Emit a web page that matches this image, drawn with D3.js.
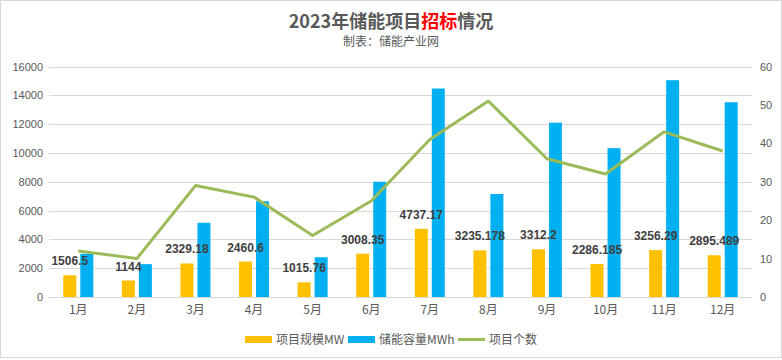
<!DOCTYPE html>
<html><head><meta charset="utf-8">
<script src="https://cdn.jsdelivr.net/npm/d3@7"></script>
<style>
body{margin:0;background:#fff;}
svg{display:block;}
text{font-family:"Noto Sans CJK SC","Noto Sans",sans-serif;}
</style></head>
<body><svg id="c" width="782" height="360"></svg>
<script>
const categories = ["1月","2月","3月","4月","5月","6月","7月","8月","9月","10月","11月","12月"];
const scaleMW = [1506.5,1144,2329.18,2460.6,1015.76,3008.35,4737.17,3235.178,3312.2,2286.185,3256.29,2895.489];
const capacityMWh = [3000,2280,5150,6650,2760,8000,14470,7150,12100,10330,15050,13520];
const projectCount = [12,10,29,26,16,25,41,51,36,32,43,38];
const leftTicks = [0,2000,4000,6000,8000,10000,12000,14000,16000];
const rightTicks = [0,10,20,30,40,50,60];
const seriesNames = ["项目规模MW","储能容量MWh","项目个数"];
const colors = ["#FFC000","#00B0F0","#9BBB59"];

const svg = d3.select("#c");
svg.append("rect").attr("x",0.5).attr("y",0.5).attr("width",781).attr("height",357)
  .attr("fill","#fff").attr("stroke","#d9d9d9");

const L=49,R=752,T=66.5,B=297;
const x = d3.scaleBand().domain(categories).range([L,R]).paddingInner(0).paddingOuter(0);
const yL = d3.scaleLinear().domain([0,16000]).range([B,T]);
const yR = d3.scaleLinear().domain([0,60]).range([B,T]);

// gridlines
svg.append("g").selectAll("line").data(leftTicks).join("line")
  .attr("x1",L).attr("x2",R).attr("y1",d=>Math.round(yL(d))+0.5).attr("y2",d=>Math.round(yL(d))+0.5)
  .attr("stroke","#d9d9d9").attr("stroke-width",1);

// left axis
const axL = svg.append("g").attr("transform",`translate(${L-6},0)`)
  .call(d3.axisLeft(yL).tickValues(leftTicks).tickSize(0).tickPadding(0).tickFormat(d3.format("d")));
axL.select(".domain").remove();
axL.selectAll("text").attr("fill","#595959").style("font-size","11px").style("font-family","'Liberation Sans',sans-serif");

// right axis
const axR = svg.append("g").attr("transform",`translate(${R+8},0)`)
  .call(d3.axisRight(yR).tickValues(rightTicks).tickSize(0).tickPadding(0));
axR.select(".domain").remove();
axR.selectAll("text").attr("fill","#595959").style("font-size","11px").style("font-family","'Liberation Sans',sans-serif");

// x axis
const axX = svg.append("g").attr("transform",`translate(0,${B})`)
  .call(d3.axisBottom(x).tickSize(0).tickPadding(8));
axX.select(".domain").remove();
axX.selectAll("text").attr("fill","#595959").style("font-size","12px");

const bw=13, gap=4;
const cx = d=>x(d)+x.bandwidth()/2;
// orange bars
svg.append("g").selectAll("rect").data(categories).join("rect")
  .attr("x",(d)=>cx(d)-gap/2-bw).attr("width",bw)
  .attr("y",(d,i)=>yL(scaleMW[i])).attr("height",(d,i)=>B-yL(scaleMW[i]))
  .attr("fill",colors[0]);
// blue bars
svg.append("g").selectAll("rect").data(categories).join("rect")
  .attr("x",(d)=>cx(d)+gap/2).attr("width",bw)
  .attr("y",(d,i)=>yL(capacityMWh[i])).attr("height",(d,i)=>B-yL(capacityMWh[i]))
  .attr("fill",colors[1]);

// line
const line = d3.line().x(d=>cx(d[0])).y(d=>yR(d[1]));
svg.append("path").datum(categories.map((c,i)=>[c,projectCount[i]]))
  .attr("d",line).attr("fill","none").attr("stroke",colors[2]).attr("stroke-width",3)
  .attr("stroke-linejoin","round");

// data labels
svg.append("g").selectAll("text").data(categories).join("text")
  .attr("x",d=>cx(d)-gap/2-bw/2).attr("y",(d,i)=>yL(scaleMW[i])-10)
  .attr("text-anchor","middle").attr("fill","#404040")
  .style("font-size","12px").style("font-weight","bold").style("font-family","'Liberation Sans',sans-serif")
  .text((d,i)=>scaleMW[i]);

// title
const title = svg.append("text").attr("x",391).attr("y",28).attr("text-anchor","middle")
  .attr("fill","#595959").style("font-size","18px").style("font-weight","bold");
title.append("tspan").text("2023年储能项目");
title.append("tspan").attr("fill","#FF0000").text("招标");
title.append("tspan").text("情况");
svg.append("text").attr("x",391).attr("y",46).attr("text-anchor","middle")
  .attr("fill","#595959").style("font-size","12px").text("制表：储能产业网");

// legend
const lg = svg.append("g");
const items = [{x:245,type:"rect"},{x:348,type:"rect"},{x:458,type:"line"}];
items.forEach((it,i)=>{
  if(it.type==="rect"){
    lg.append("rect").attr("x",it.x).attr("y",336).attr("width",27).attr("height",7).attr("fill",colors[i]);
  } else {
    lg.append("line").attr("x1",it.x).attr("x2",it.x+27).attr("y1",339.5).attr("y2",339.5)
      .attr("stroke",colors[i]).attr("stroke-width",3);
  }
  lg.append("text").attr("x",it.x+31).attr("y",344).attr("fill","#595959")
    .style("font-size","12px").text(seriesNames[i]);
});
</script></body></html>
